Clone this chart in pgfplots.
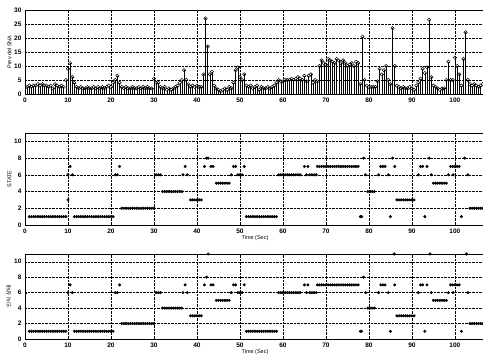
\documentclass[border=0pt]{standalone}
\usepackage{fontspec}
\setmainfont{Liberation Sans}
\newfontfamily\kr{Noto Sans CJK KR}
\usepackage{pgfplots}
\pgfplotsset{compat=1.18}
\pgfplotsset{
  every axis/.append style={
    scale only axis, xmin=0, xmax=107,
    xtick={0,10,...,100},
    grid=major,
    major grid style={densely dotted, black, line width=0.4pt},
    axis line style={black, line width=0.8pt},
    tick align=inside, major tick length=2pt,
    tick style={black},
    /pgf/number format/assume math mode=true,
    tick label style={font=\fontsize{6.5}{6.5}\selectfont\bfseries},
    label style={font=\fontsize{5.5}{6}\selectfont},
    ylabel shift=-4pt,
    xlabel shift=-4pt,
  }
}
\begin{document}
\begin{tikzpicture}
\path[use as bounding box] (0pt,0pt) rectangle (483pt,362pt);
% ---------- top: stem plot ----------
\begin{axis}[at={(25pt,352pt)}, anchor=north west, width=460pt, height=84pt,
  ymin=0, ymax=30, ytick={0,5,...,30}, ylabel={Prev del SNA}]
\addplot[ycomb, black, line width=0.5pt, mark=o, mark size=1.7pt, mark options={fill=white, line width=0.5pt}] coordinates {
(0.5,2.5)(1,3)(1.5,2.5)(2,3)(2.5,3)(3,3.5)(3.5,3)(4,3.5)(4.5,3)(5,3)(5.5,2.5)(6,3)(6.5,2)(7,3.5)(7.5,3)(8,2.5)(8.5,3)(9,2.5)(9.5,5)
(10,9)(10.5,11)(11,6)(11.5,4)(12,2.5)(12.5,2)(13,2.5)(13.5,2)(14,2)(14.5,2.5)(15,2)(15.5,2)(16,2.5)(16.5,2)(17,2.5)(17.5,2)(18,2.5)(18.5,2)(19,2.5)(19.5,3)
(20,2.5)(20.5,4)(21,5)(21.5,6.5)(22,4)(22.5,2.5)(23,2)(23.5,2.5)(24,2)(24.5,2)(25,2.5)(25.5,2)(26,2)(26.5,2.5)(27,2)(27.5,2.5)(28,2)(28.5,2.5)(29,2)(29.5,2)
(30,5.5)(30.5,4)(31,4)(31.5,2.5)(32,2)(32.5,2.5)(33,1.5)(33.5,2)(34,1.5)(34.5,2)(35,2.5)(35.5,3)(36,4)(36.5,5)(37,8.5)(37.5,5)(38,3.5)(38.5,2.5)(39,3)(39.5,2.5)
(40,3)(40.5,2.5)(41,2.5)(41.5,7)(42,27)(42.5,17)(43,7)(43.5,8)(44,3)(44.5,2)(45,1.5)(45.5,1)(46,1.5)(46.5,2)(47,1.5)(47.5,2.5)(48,2)(48.5,4)(49,8.5)(49.5,9.5)
(50,6)(50.5,5)(51,7)(51.5,3)(52,2.5)(52.5,3)(53,2)(53.5,2.5)(54,3)(54.5,1.5)(55,2.5)(55.5,2)(56,2)(56.5,2.5)(57,2)(57.5,2.5)(58,3)(58.5,4)(59,5)(59.5,4.5)
(60,4.5)(60.5,5)(61,5)(61.5,5)(62,5.5)(62.5,5)(63,5.5)(63.5,6)(64,5.5)(64.5,5)(65,6.5)(65.5,4.5)(66,6.5)(66.5,7)(67,4)(67.5,5)(68,4.5)(68.5,10)(69,12)(69.5,11)
(70,10.5)(70.5,12.5)(71,12)(71.5,11.5)(72,11)(72.5,12.5)(73,12)(73.5,11)(74,12)(74.5,11)(75,10)(75.5,10.5)(76,11)(76.5,10)(77,11.5)(77.5,11)(78,3.5)(78.5,20.5)(79,5)(79.5,3)
(80,2.5)(80.5,2.5)(81,2.5)(81.5,2.5)(82,4.5)(82.5,9)(83,7)(83.5,8.5)(84,10)(84.5,5)(85,3.5)(85.5,23.5)(86,10)(86.5,3)(87,2.5)(87.5,2)(88,2.5)(88.5,2)(89,2)(89.5,2.5)
(90,2)(90.5,1.5)(91,3)(91.5,4)(92,5.5)(92.5,9)(93,7.5)(93.5,9.5)(94,26.5)(94.5,6)(95,3)(95.5,2.5)(96,2)(96.5,1.5)(97,2)(97.5,2)(98,5)(98.5,11.5)(99,5)(99.5,5)
(100,13)(100.5,10)(101,7)(101.5,3)(102,12.5)(102.5,22)(103,5)(103.5,3.5)(104,3)(104.5,3.5)(105,3)(105.5,2.5)(106,3)(106.5,3.5)
};
\end{axis}
% ---------- middle: states ----------
\begin{axis}[at={(25pt,229pt)}, anchor=north west, width=460pt, height=92pt,
  ymin=0, ymax=11, ytick={0,2,...,10}, ylabel={STATE}, xlabel={Time (Sec)}]
\addplot[only marks, black, mark=*, mark size=1.3pt] coordinates {
(1,1)(1.5,1)(2,1)(2.5,1)(3,1)(3.5,1)(4,1)(4.5,1)(5,1)(5.5,1)(6,1)(6.5,1)(7,1)(7.5,1)(8,1)(8.5,1)(9,1)(9.5,1)
(10,6)(10,3)(10.5,7)(11,6)
(11.5,1)(12,1)(12.5,1)(13,1)(13.5,1)(14,1)(14.5,1)(15,1)(15.5,1)(16,1)(16.5,1)(17,1)(17.5,1)(18,1)(18.5,1)(19,1)(19.5,1)(20,1)(20.5,1)
(21,6)(21.5,6)(22,7)
(22.5,2)(23,2)(23.5,2)(24,2)(24.5,2)(25,2)(25.5,2)(26,2)(26.5,2)(27,2)(27.5,2)(28,2)(28.5,2)(29,2)(29.5,2)(30,2)
(30.5,6)(31,6)(31.5,6)
(32,4)(32.5,4)(33,4)(33.5,4)(34,4)(34.5,4)(35,4)(35.5,4)(36,4)(36.5,4)
(36.75,6)(37.25,7)(37.75,6)
(38.5,3)(39,3)(39.5,3)(40,3)(40.5,3)(41,3)
(41.75,7)(42.25,8)(42.6,8)(43.25,7)(43.75,7)
(44.5,5)(45,5)(45.5,5)(46,5)(46.5,5)(47,5)(47.5,5)
(48,6)(48.5,7)(49,7)(49.5,6)(50,6)(50.5,6)(51,7)(51.5,1)
(52,1)(52.5,1)(53,1)(53.5,1)(54,1)(54.5,1)(55,1)(55.5,1)(56,1)(56.5,1)(57,1)(57.5,1)(58,1)(58.5,1)
(59,6)(59.5,6)(60,6)(60.5,6)(61,6)(61.5,6)(62,6)(62.5,6)(63,6)(63.5,6)(64,6)
(65,7)(65.5,6)(65.8,7)(66.25,6)(66.75,6)(67.25,6)(67.75,6)
(68,7)(68.5,7)(69,7)(69.5,7)(70,7)(70.5,7)(71,7)(71.5,7)(72,7)(72.5,7)(73,7)(73.5,7)(74,7)(74.5,7)(75,7)(75.5,7)(76,7)(76.5,7)(77,7)(77.5,7)
(78,1)(78.3,1)(78.75,8)(79.25,6)
(79.75,4)(80.25,4)(80.75,4)(81.25,4)
(82.25,6)(82.75,7)(83.25,7)(83.75,7)(84.5,6)(85,1)(85.5,8)(86,7)
(86.5,3)(87,3)(87.5,3)(88,3)(88.5,3)(89,3)(89.5,3)(90,3)(90.5,3)
(91.5,6)(92,7)(92.5,7)(93,1)(93.5,7)(94,8)(94.5,6)
(95,5)(95.5,5)(96,5)(96.5,5)(97,5)(97.5,5)(98,5)
(98.5,6)(99,7)(99.5,7)(99.6,6)(100,7)(100.5,7)(101,7)(101.5,1)(102.25,8)(103,6)
(103.5,2)(104,2)(104.5,2)(105,2)(105.5,2)(106,2)(106.5,2)
};
\end{axis}
% ---------- bottom: states ----------
\begin{axis}[at={(25pt,108pt)}, anchor=north west, width=460pt, height=85pt,
  ymin=0, ymax=11, ytick={0,2,...,10}, ylabel={\kr 인식 상태}, xlabel={Time (Sec)}]
\addplot[only marks, black, mark=*, mark size=1.3pt] coordinates {
(1,1)(1.5,1)(2,1)(2.5,1)(3,1)(3.5,1)(4,1)(4.5,1)(5,1)(5.5,1)(6,1)(6.5,1)(7,1)(7.5,1)(8,1)(8.5,1)(9,1)(9.5,1)
(10,6)(10.5,7)(11,6)
(11.5,1)(12,1)(12.5,1)(13,1)(13.5,1)(14,1)(14.5,1)(15,1)(15.5,1)(16,1)(16.5,1)(17,1)(17.5,1)(18,1)(18.5,1)(19,1)(19.5,1)(20,1)(20.5,1)
(21,6)(21.5,6)(22,7)
(22.5,2)(23,2)(23.5,2)(24,2)(24.5,2)(25,2)(25.5,2)(26,2)(26.5,2)(27,2)(27.5,2)(28,2)(28.5,2)(29,2)(29.5,2)(30,2)
(30.5,6)(31,6)(31.5,6)
(32,4)(32.5,4)(33,4)(33.5,4)(34,4)(34.5,4)(35,4)(35.5,4)(36,4)(36.5,4)
(36.75,6)(37.25,7)(37.75,6)
(38.5,3)(39,3)(39.5,3)(40,3)(40.5,3)(41,3)
(41.75,7)(42.25,8)(42.6,11)(43.25,7)(43.75,7)
(44.5,5)(45,5)(45.5,5)(46,5)(46.5,5)(47,5)(47.5,5)
(48,6)(48.5,7)(49,7)(49.5,6)(50,6)(50.5,6)(51,7)(51.5,1)
(52,1)(52.5,1)(53,1)(53.5,1)(54,1)(54.5,1)(55,1)(55.5,1)(56,1)(56.5,1)(57,1)(57.5,1)(58,1)(58.5,1)
(59,6)(59.5,6)(60,6)(60.5,6)(61,6)(61.5,6)(62,6)(62.5,6)(63,6)(63.5,6)(64,6)
(65,7)(65.5,6)(65.8,7)(66.25,6)(66.75,6)(67.25,6)(67.75,6)
(68,7)(68.5,7)(69,7)(69.5,7)(70,7)(70.5,7)(71,7)(71.5,7)(72,7)(72.5,7)(73,7)(73.5,7)(74,7)(74.5,7)(75,7)(75.5,7)(76,7)(76.5,7)(77,7)(77.5,7)
(78,1)(78.3,1)(78.75,8)(79.25,6)
(79.75,4)(80.25,4)(80.75,4)(81.25,4)
(82.25,6)(82.75,7)(83.25,7)(83.75,7)(84.5,6)(85,1)(85.9,11)(86,7)
(86.5,3)(87,3)(87.5,3)(88,3)(88.5,3)(89,3)(89.5,3)(90,3)(90.5,3)
(91.5,6)(92,7)(92.5,7)(93,1)(93.5,7)(94.2,11)(94.5,6)
(95,5)(95.5,5)(96,5)(96.5,5)(97,5)(97.5,5)(98,5)
(98.5,6)(99,7)(99.5,7)(99.6,6)(100,7)(100.5,7)(101,7)(101.5,1)(102.7,11)(103,6)
(103.5,2)(104,2)(104.5,2)(105,2)(105.5,2)(106,2)(106.5,2)
};
\end{axis}
\end{tikzpicture}
\end{document}
